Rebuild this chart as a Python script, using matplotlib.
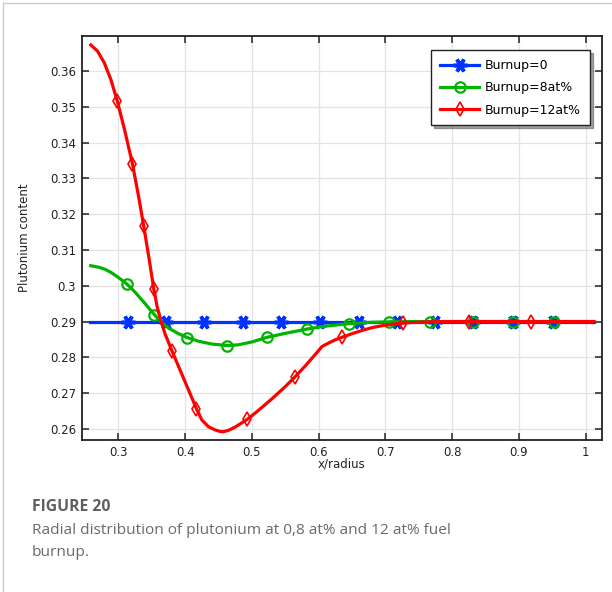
import matplotlib
matplotlib.use("Agg")
import matplotlib.pyplot as plt
from matplotlib.lines import Line2D
from matplotlib.ticker import FuncFormatter, MultipleLocator

# Burnup = 0 : flat profile
x_b0 = [0.258, 1.0125]
y_b0 = [0.29, 0.29]
mx_b0 = [0.314, 0.3715, 0.429, 0.486, 0.544, 0.6024, 0.66, 0.717, 0.775, 0.832, 0.891, 0.951]
my_b0 = [0.29] * len(mx_b0)

# Burnup = 8 at%
x_b8 = [0.2586, 0.27, 0.28, 0.29, 0.30, 0.3126, 0.325, 0.34, 0.354, 0.365, 0.375,
        0.39, 0.4035, 0.42, 0.44, 0.4634, 0.48, 0.50, 0.523, 0.55, 0.5825, 0.61,
        0.645, 0.68, 0.706, 0.74, 1.0125]
y_b8 = [0.3056, 0.3052, 0.3046, 0.3036, 0.3023, 0.3005, 0.2982, 0.2950, 0.2919, 0.2897, 0.2882,
        0.2866, 0.2855, 0.2845, 0.2837, 0.2833, 0.2835, 0.2843, 0.2856, 0.2867, 0.2879, 0.2887,
        0.2894, 0.2898, 0.2899, 0.2900, 0.2900]
mx_b8 = [0.3126, 0.354, 0.4035, 0.4634, 0.523, 0.5825, 0.645, 0.706, 0.767, 0.831, 0.891, 0.953]
my_b8 = [0.3005, 0.2919, 0.2855, 0.2833, 0.2856, 0.2879, 0.2894, 0.2899, 0.29, 0.29, 0.29, 0.29]

# Burnup = 12 at%
x_b12 = [0.2586, 0.2686, 0.2786, 0.2886, 0.2985, 0.31, 0.321, 0.33, 0.338, 0.346,
         0.353, 0.358, 0.364, 0.37, 0.380, 0.39, 0.40, 0.41, 0.417, 0.425, 0.435, 0.445, 0.452,
         0.457, 0.465, 0.475, 0.4934, 0.51, 0.53, 0.55, 0.565, 0.58, 0.595, 0.605,
         0.615, 0.625, 0.635, 0.65, 0.665, 0.68, 0.70, 0.727, 0.76, 0.80, 1.0125]
y_b12 = [0.3673, 0.3656, 0.3624, 0.3577, 0.3515, 0.3430, 0.3341, 0.3252, 0.3166, 0.3075,
         0.2991, 0.2942, 0.2900, 0.2865, 0.2819, 0.2775, 0.2731, 0.2687, 0.2656, 0.2625, 0.2606,
         0.2597, 0.2593, 0.2592, 0.2596, 0.2605, 0.2627, 0.2652, 0.2684, 0.2718, 0.2746, 0.2776,
         0.2808, 0.2830, 0.2840, 0.2849, 0.2856, 0.2866, 0.2875, 0.2883, 0.2890, 0.2896, 0.2899,
         0.2900, 0.2900]
mx_b12 = [0.2985, 0.321, 0.338, 0.353, 0.380, 0.417, 0.4934, 0.565, 0.635, 0.727, 0.825, 0.918]
my_b12 = [0.3515, 0.3341, 0.3166, 0.2991, 0.2819, 0.2656, 0.2627, 0.2746, 0.2856, 0.2896, 0.29, 0.29]

labels = ["Burnup=0", "Burnup=8at%", "Burnup=12at%"]
colors = ["#0033ff", "#00b400", "#ff0000"]

fig = plt.figure(figsize=(6.12, 5.92), dpi=100)
ax = fig.add_axes([0.1335, 0.2568, 0.85, 0.6824])

lw = 2.3
star = (6, 2, 90)
ax.plot(x_b0, y_b0, color=colors[0], lw=lw, zorder=3)
ax.plot(mx_b0, my_b0, ls="none", marker=star, ms=10, mew=2.6, color=colors[0], zorder=4)
ax.plot(x_b8, y_b8, color=colors[1], lw=lw, zorder=5)
ax.plot(mx_b8, my_b8, ls="none", marker="o", ms=7.5, mew=1.6, mfc="none", color=colors[1], zorder=6)
ax.plot(x_b12, y_b12, color=colors[2], lw=lw, zorder=7)
ax.plot(mx_b12, my_b12, ls="none", marker="d", ms=7.5, mew=1.2, mfc="none", color=colors[2], zorder=8)

ax.set_xlim(0.245, 1.0245)
ax.set_ylim(0.2569, 0.3698)
ax.xaxis.set_major_locator(MultipleLocator(0.1))
ax.yaxis.set_major_locator(MultipleLocator(0.01))
fmt = FuncFormatter(lambda v, p: "{:g}".format(round(v, 4)))
ax.xaxis.set_major_formatter(fmt)
ax.yaxis.set_major_formatter(fmt)
ax.grid(True, color="#e3e3e3", lw=0.9)
ax.set_axisbelow(True)
ax.tick_params(direction="in", top=True, right=True, length=5, width=1.1,
               labelsize=8.5, colors="#222222", pad=4)
for s in ax.spines.values():
    s.set_linewidth(1.3)
    s.set_color("#222222")

ax.set_xlabel("x/radius", fontsize=8.5, labelpad=-1, color="#222222")
ax.set_ylabel("Plutonium content", fontsize=8.5, labelpad=14, color="#222222")

handles = [
    Line2D([], [], color=colors[0], lw=lw, marker=star, ms=10, mew=2.6),
    Line2D([], [], color=colors[1], lw=lw, marker="o", ms=7.5, mew=1.6, mfc="none"),
    Line2D([], [], color=colors[2], lw=lw, marker="d", ms=7.5, mew=1.2, mfc="none"),
]
leg = ax.legend(handles, labels, loc="upper right", bbox_to_anchor=(0.977, 0.965),
                fontsize=9, frameon=True, fancybox=False, shadow=True,
                handlelength=3.1, handletextpad=0.5, borderpad=0.7,
                labelspacing=0.75, borderaxespad=0)
leg.get_frame().set_edgecolor("#222222")
leg.get_frame().set_linewidth(1.0)

# card border
fig.add_artist(Line2D([3.5 / 612, 3.5 / 612], [0, 1 - 2.5 / 592], color="#cccccc", lw=1.0))
fig.add_artist(Line2D([3.5 / 612, 1], [1 - 2.5 / 592, 1 - 2.5 / 592], color="#cccccc", lw=1.0))

cap_font = ["Open Sans", "DejaVu Sans"]
fig.text(32 / 612, 1 - 507 / 592, "FIGURE 20", fontsize=11.3, fontweight="bold",
         color="#5f5f5f", family=cap_font, va="center")
fig.text(32 / 612, 1 - 531 / 592, "Radial distribution of plutonium at 0,8 at% and 12 at% fuel",
         fontsize=11.1, color="#6a6a6a", family=cap_font, va="center")
fig.text(32 / 612, 1 - 553 / 592, "burnup.", fontsize=11.1, color="#6a6a6a",
         family=cap_font, va="center")

fig.savefig("out.png", dpi=100)
